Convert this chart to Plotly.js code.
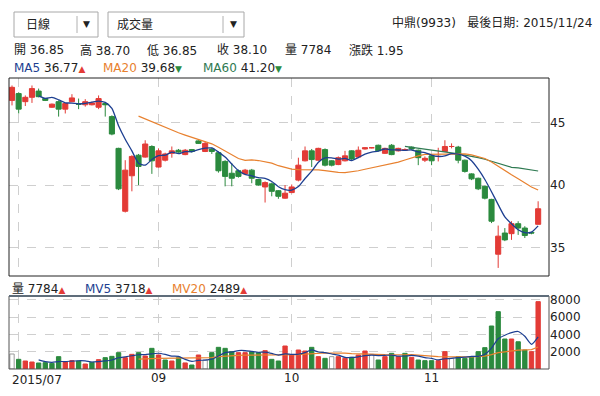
<!DOCTYPE html>
<html><head><meta charset="utf-8">
<script src="https://cdn.plot.ly/plotly-3.0.1.min.js"></script>
<style>html,body{margin:0;padding:0;background:#fff;} #chart{width:600px;height:396px;}</style>
</head><body><div id="chart"></div>
<script>
const dates = ['2015/07/31',
'2015/08/03','2015/08/04','2015/08/05','2015/08/06','2015/08/07','2015/08/10','2015/08/11','2015/08/12','2015/08/13','2015/08/14',
'2015/08/17','2015/08/18','2015/08/19','2015/08/20','2015/08/21','2015/08/24','2015/08/25','2015/08/26','2015/08/27','2015/08/28','2015/08/31',
'2015/09/01','2015/09/02','2015/09/03','2015/09/04','2015/09/07','2015/09/08','2015/09/09','2015/09/10','2015/09/11','2015/09/14',
'2015/09/15','2015/09/16','2015/09/17','2015/09/18','2015/09/21','2015/09/22','2015/09/23','2015/09/24','2015/09/25','2015/09/30',
'2015/10/01','2015/10/02','2015/10/05','2015/10/06','2015/10/07','2015/10/08','2015/10/12','2015/10/13','2015/10/14','2015/10/15',
'2015/10/16','2015/10/19','2015/10/20','2015/10/21','2015/10/22','2015/10/23','2015/10/26','2015/10/27','2015/10/28','2015/10/29','2015/10/30',
'2015/11/02','2015/11/03','2015/11/04','2015/11/05','2015/11/06','2015/11/09','2015/11/10','2015/11/11','2015/11/12','2015/11/13',
'2015/11/16','2015/11/17','2015/11/18','2015/11/19','2015/11/20','2015/11/23','2015/11/24'];

const openP = [46.8,47.35,46.7,47.05,47.55,46.95,46.25,46.7,46.1,46.7, 46.5,46.45,46.45,46.25,46.55,45.5,42.95,37.9,40.75,42.4,
 42.25,43.1,41.45,42.0,42.55,42.8,42.45,42.85,43.55,42.7, 42.9,42.6,41.9,40.95,41.15,40.9,41.2,40.45,39.85,40.1,
 39.55,38.95,39.4,40.4,41.95,42.75,42.0,42.85,41.95,41.65, 41.95,42.75,42.25,42.9,43.0,43.2,42.55,43.2,42.75,42.8,
 43.05,42.8,42.0,42.35,42.3,42.7,43.1,43.05,42.0,40.9, 40.55,39.9,38.85,34.45,36.15,36.1,36.9,36.55,36.2,36.85];
const highP = [48.0,47.45,47.2,48.0,47.75,47.0,46.55,46.8,46.6,47.3, 46.95,46.9,46.7,47.2,46.6,45.6,43.0,42.0,42.4,42.5,
 43.6,43.2,42.95,42.6,43.1,42.9,42.9,42.9,43.6,43.5, 43.0,42.7,42.0,41.75,41.25,41.3,41.3,40.5,40.3,40.2,
 39.6,40.0,40.05,42.2,43.1,42.9,43.0,42.95,42.0,42.3, 42.75,42.8,43.1,43.05,43.05,43.25,43.0,43.3,43.0,42.95,
 43.1,42.85,42.3,42.4,43.0,43.6,43.35,43.15,42.05,40.95, 40.6,39.95,38.9,36.75,36.55,37.1,37.1,36.7,36.25,38.7];
const lowP = [46.4,45.75,46.35,46.6,47.05,46.75,46.2,45.5,45.75,46.65, 46.1,46.3,46.4,46.1,45.5,44.0,39.6,37.8,39.5,40.0,
 42.2,40.9,41.4,41.9,42.2,42.6,42.4,42.6,43.3,42.65, 42.5,41.0,39.9,39.9,40.6,40.8,40.15,39.95,38.6,39.1,
 38.9,38.9,39.35,40.3,41.9,41.45,41.95,41.5,41.5,41.6, 41.9,42.0,42.2,42.85,42.95,42.7,42.5,42.4,42.7,42.75,
 42.85,41.6,41.85,41.6,41.9,42.65,42.95,41.75,41.0,40.4, 39.6,38.85,36.95,33.35,35.5,35.6,36.0,35.75,36.05,36.85];
const closeP = [47.85,46.1,47.05,47.75,47.1,46.8,46.5,46.1,46.55,47.0, 46.5,46.7,46.6,46.95,46.45,44.1,39.7,41.2,42.3,41.5,
 43.3,41.95,42.75,42.5,42.75,42.65,42.8,42.7,43.35,43.35, 42.7,41.15,40.7,40.55,40.7,41.2,40.55,40.0,40.2,39.5,
 39.1,39.35,39.85,41.6,42.75,42.05,42.95,41.6,41.6,42.2, 42.35,42.1,42.8,43.0,43.0,42.75,42.95,42.45,42.95,42.85,
 42.9,42.2,42.15,41.95,42.3,43.1,43.1,42.0,41.1,40.5, 39.7,38.95,37.1,35.9,35.6,36.9,36.55,35.95,36.15,38.1];
const volume = [1734,1117,925,809,694,732,655,1426,809,963, 925,578,771,1079,1310,1464,1888,1310,1695,1888,
 1503,2389,1618,1040,925,1310,700,462,1618,1040, 1888,2505,2389,2003,1888,1888,2003,1888,2119,1117,
 925,2659,1618,2196,2081,2505,1426,1233,1426,1426, 1233,1349,1618,2081,1695,1040,1426,1811,1426,1811,
 1349,1040,963,963,963,2003,1233,1426,1233,1426, 2003,2466,4971,6628,3468,3468,3150,2196,2003,7784];

const monthTickDates = ['2015/08/03','2015/09/01','2015/10/01','2015/11/02'];
const monthTickText = ['', '09', '10', '11'];
const firstMonthLabel = '2015/07';
const priceTicks = [35, 40, 45];
const volTicks = [2000, 4000, 6000, 8000];

const stockName = '中鼎(9933)';
const lastDateText = '最後日期: 2015/11/24';
const quoteItems = ['開 36.85', '高 38.70', '低 36.85', '收 38.10', '量 7784', '漲跌 1.95'];
const maLabels = ['MA5', 'MA20', 'MA60'];
const maValues = ['36.77', '39.68', '41.20'];
const maArrows = ['▲', '▼', '▼'];
const volLabels = ['量', 'MV5', 'MV20'];
const volValues = ['7784', '3718', '2489'];
const volArrows = ['▲', '▲', '▲'];
const periodText = '日線';
const indicatorText = '成交量';

const RED = '#e33b36', GREEN = '#2b8a3e';
const C_MA5 = '#1d3f91', C_MA20 = '#e8812f', C_MA60 = '#2f7a52';
const FONT = "'DejaVu Sans', 'Noto Sans CJK TC', sans-serif";

function movingAvg(arr, n) {
  return arr.map((_, i) => i < n - 1 ? null : arr.slice(i - n + 1, i + 1).reduce((a, b) => a + b, 0) / n);
}
const volFill = closeP.map((c, i) => (i === 0 || c === closeP[i - 1]) ? '#ffffff' : (c > closeP[i - 1] ? RED : GREEN));
const volLine = volFill.map(c => c === '#ffffff' ? '#9a9a9a' : c);

// pixel -> paper helpers (plot area: x 9..549, y 78..369)
const L = 9, R = 51, T = 78, B = 27, W = 600, H = 396;
const pw = W - L - R, ph = H - T - B;
const px = x => (x - L) / pw;
const py = y => (H - B - y) / ph;

const traces = [
  { type: 'candlestick', x: dates, open: openP, high: highP, low: lowP, close: closeP,
    xaxis: 'x', yaxis: 'y', hoverinfo: 'skip',
    increasing: { line: { color: RED, width: 1 }, fillcolor: RED },
    decreasing: { line: { color: GREEN, width: 1 }, fillcolor: GREEN } },
  { type: 'scatter', mode: 'lines', x: dates, y: movingAvg(closeP, 60), xaxis: 'x', yaxis: 'y',
    line: { color: C_MA60, width: 1.2 }, hoverinfo: 'skip' },
  { type: 'scatter', mode: 'lines', x: dates, y: movingAvg(closeP, 20), xaxis: 'x', yaxis: 'y',
    line: { color: C_MA20, width: 1.2 }, hoverinfo: 'skip' },
  { type: 'scatter', mode: 'lines', x: dates, y: movingAvg(closeP, 5), xaxis: 'x', yaxis: 'y',
    line: { color: C_MA5, width: 1.3, shape: 'spline', smoothing: 0.6 }, hoverinfo: 'skip' },
  { type: 'bar', x: dates, y: volume, xaxis: 'x', yaxis: 'y2',
    marker: { color: volFill, line: { color: volLine, width: 1 } }, hoverinfo: 'skip' },
  { type: 'scatter', mode: 'lines', x: dates, y: movingAvg(volume, 20), xaxis: 'x', yaxis: 'y2',
    line: { color: C_MA20, width: 1.2 }, hoverinfo: 'skip' },
  { type: 'scatter', mode: 'lines', x: dates, y: movingAvg(volume, 5), xaxis: 'x', yaxis: 'y2',
    line: { color: C_MA5, width: 1.2, shape: 'spline', smoothing: 0.6 }, hoverinfo: 'skip' }
];

function roundRect(x0, y0, x1, y1, r) {
  const X0 = px(x0), X1 = px(x1), Y0 = py(y0), Y1 = py(y1);
  return { type: 'rect', xref: 'paper', yref: 'paper', x0: X0, x1: X1, y0: Y1, y1: Y0,
    line: { color: '#a8a8a8', width: 1 }, fillcolor: '#ffffff', layer: 'above' };
}
function vline(x, y0, y1, color) {
  return { type: 'line', xref: 'paper', yref: 'paper', x0: px(x), x1: px(x), y0: py(y0), y1: py(y1),
    line: { color: color, width: 1 } };
}

const shapes = [
  { type: 'rect', xref: 'paper', yref: 'paper', x0: 0, x1: 1, y0: py(276), y1: 1, line: { color: '#222', width: 1 } },
  { type: 'rect', xref: 'paper', yref: 'paper', x0: 0, x1: 1, y0: 0, y1: py(296), line: { color: '#555', width: 1 } },
  { type: 'line', xref: 'paper', yref: 'paper', x0: 0, x1: 1, y0: py(296), y1: py(296), line: { color: '#5f6d7a', width: 2 } },
  roundRect(14, 12, 98, 37, 3),
  vline(77, 16, 33, '#b0b0b0'),
  roundRect(108, 12, 244, 37, 3),
  vline(223, 16, 33, '#b0b0b0')
];

function ann(text, x, y, opts) {
  return Object.assign({ text: text, xref: 'paper', yref: 'paper', x: px(x), y: py(y),
    xanchor: 'left', yanchor: 'middle', showarrow: false, font: { family: FONT, size: 12, color: '#222' } }, opts || {});
}
const arrowSpan = a => '<span style="color:' + (a === '▲' ? RED : GREEN) + ';font-size:9px">' + a + '</span>';

const annotations = [
  ann(periodText, 24, 24.5),
  ann('▼', 87, 24.5, { xanchor: 'center', font: { family: FONT, size: 9, color: '#222' } }),
  ann(indicatorText, 115, 24.5),
  ann('▼', 233, 24.5, { xanchor: 'center', font: { family: FONT, size: 9, color: '#222' } }),
  ann(stockName + '   ' + lastDateText, 594, 22.5, { xanchor: 'right' }),
  ann(firstMonthLabel, 10, 380)
];
const quoteX = [12, 78, 145, 215, 283, 347];
quoteItems.forEach((q, i) => annotations.push(ann(q, quoteX[i], 50.5)));
const maX = [12, 101, 201];
const maCols = [C_MA5, C_MA20, C_MA60];
maLabels.forEach((m, i) => annotations.push(ann('<span style="color:' + maCols[i] + '">' + m + '</span> ' + maValues[i] + arrowSpan(maArrows[i]), maX[i], 68.5)));
const volX = [10, 83, 170];
const volCols = ['#222', C_MA5, C_MA20];
volLabels.forEach((m, i) => annotations.push(ann('<span style="color:' + volCols[i] + '">' + m + '</span> ' + volValues[i] + arrowSpan(volArrows[i]), volX[i], 288.5)));

const layout = {
  width: W, height: H, margin: { l: L, r: R, t: T, b: B, pad: 0 },
  paper_bgcolor: '#ffffff', plot_bgcolor: '#ffffff',
  font: { family: FONT, size: 12, color: '#222' },
  showlegend: false, hovermode: false,
  boxgap: 0.15, boxgroupgap: 0.1, bargap: 0.35,
  xaxis: { type: 'category', anchor: 'y2', range: [-0.45, 80.63], rangeslider: { visible: false },
    tickmode: 'array', tickvals: monthTickDates, ticktext: monthTickText,
    showgrid: true, gridcolor: '#cfcfcf', griddash: 'dash', gridwidth: 1,
    ticks: '', showline: false, zeroline: false, tickfont: { size: 12, color: '#222' }, fixedrange: true },
  yaxis: { domain: [py(276), 1], range: [32.7, 48.6], side: 'right', tickmode: 'array', tickvals: priceTicks,
    showgrid: true, gridcolor: '#cfcfcf', griddash: 'dash', zeroline: false, ticks: '', showline: false,
    tickfont: { size: 12, color: '#222' }, fixedrange: true },
  yaxis2: { domain: [0, py(296)], range: [0, 8440], side: 'right', tickmode: 'array', tickvals: volTicks,
    showgrid: true, gridcolor: '#cfcfcf', griddash: 'dash', zeroline: false, ticks: '', showline: false,
    tickfont: { size: 12, color: '#222' }, fixedrange: true },
  shapes: shapes, annotations: annotations
};

Plotly.newPlot('chart', traces, layout, { displayModeBar: false, staticPlot: true });
</script>
</body></html>
